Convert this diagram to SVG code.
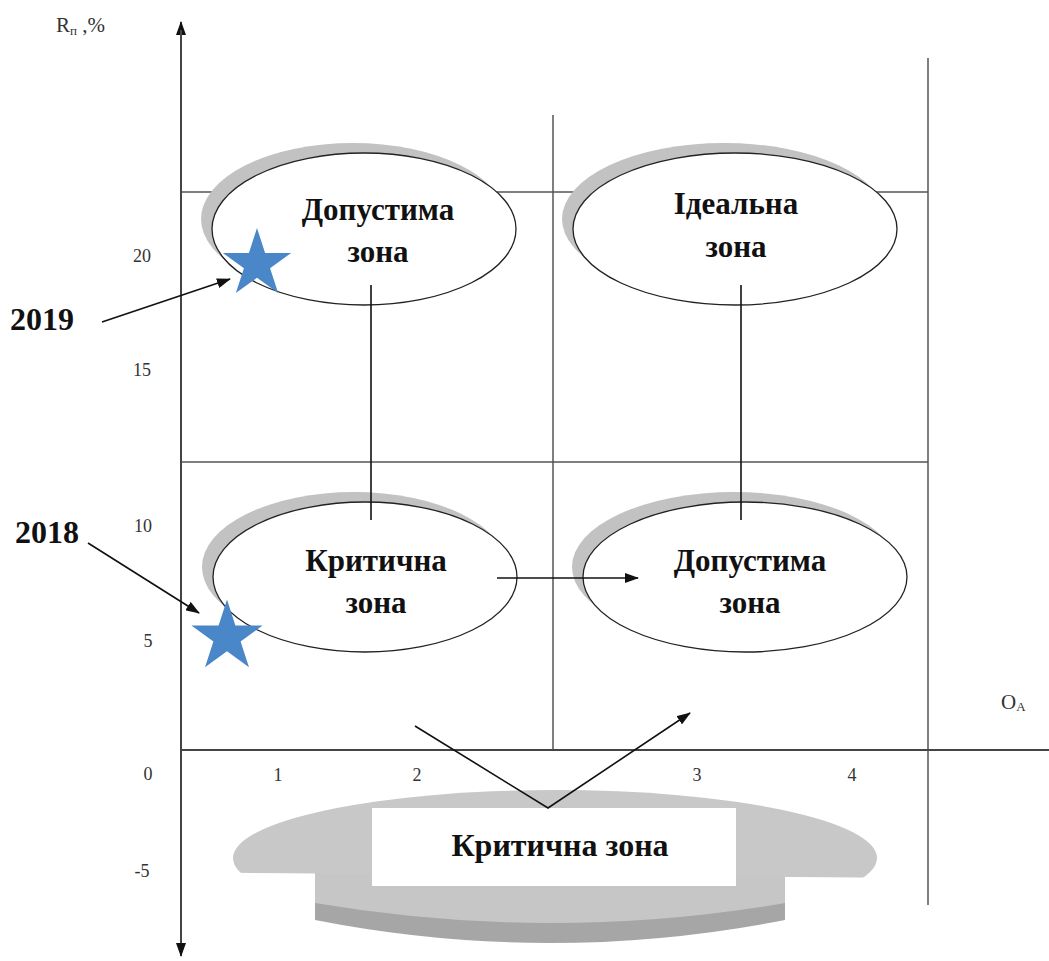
<svg xmlns="http://www.w3.org/2000/svg" width="1049" height="961" viewBox="0 0 1049 961">
<style>
.grid{stroke:#555;stroke-width:1.5;fill:none}
.axis{stroke:#444;stroke-width:2;fill:none}
.conn{stroke:#111;stroke-width:1.6;fill:none}
.shadow{fill:#c2c2c2}
.zone{fill:#fff;stroke:#222;stroke-width:1.3}
.lbl{font-family:"Liberation Serif","Times New Roman",serif;font-weight:bold;font-size:31px;fill:#111;text-anchor:middle}
.tick{font-family:"Liberation Serif","Times New Roman",serif;font-size:18px;fill:#333;text-anchor:middle}
.axl{font-family:"Liberation Serif","Times New Roman",serif;font-size:21px;fill:#333}
.year{font-family:"Liberation Serif","Times New Roman",serif;font-weight:bold;font-size:32px;fill:#111}
.star{fill:#4a87c9}
</style>
<defs>
<marker id="ah" viewBox="0 0 14 10" refX="13" refY="5" markerWidth="14" markerHeight="10" markerUnits="userSpaceOnUse" orient="auto">
<path d="M0,0 L14,5 L0,10 Z" fill="#111"/>
</marker>
<polygon id="starShape" points="0,-36 8.08,-11.12 34.24,-11.12 13.08,4.25 21.16,29.12 0,13.75 -21.16,29.12 -13.08,4.25 -34.24,-11.12 -8.08,-11.12"/>
<clipPath id="discClip"><polygon points="0,700 1049,700 1049,879 0,871"/></clipPath>
</defs>

<g id="grid">
<line class="grid" x1="181" y1="192" x2="928" y2="192"/>
<line class="grid" x1="181" y1="462" x2="928" y2="462"/>
<line class="grid" x1="553" y1="115" x2="553" y2="750"/>
<line class="grid" x1="928" y1="58" x2="928" y2="905"/>
<line class="axis" x1="181" y1="750" x2="1049" y2="750"/>
<line class="axis" x1="181" y1="950" x2="181" y2="22" marker-end="url(#ah)"/>
<line class="axis" x1="181" y1="30" x2="181" y2="956" marker-end="url(#ah)"/>
</g>

<g id="axis-labels">
<text class="axl" x="56" y="32">R<tspan font-size="13" dy="3">п</tspan><tspan dy="-3"> ,%</tspan></text>
<text class="axl" x="1001" y="709">O<tspan font-size="13" dy="2">А</tspan></text>
<text class="tick" x="142" y="262">20</text>
<text class="tick" x="142" y="376">15</text>
<text class="tick" x="143" y="532">10</text>
<text class="tick" x="148" y="647">5</text>
<text class="tick" x="148" y="780">0</text>
<text class="tick" x="142" y="877">-5</text>
<text class="tick" x="278" y="781">1</text>
<text class="tick" x="417" y="781">2</text>
<text class="tick" x="697" y="781">3</text>
<text class="tick" x="852" y="781">4</text>
</g>

<g id="zone-top-left">
<ellipse class="shadow" cx="353" cy="219" rx="152" ry="76"/>
<ellipse class="zone" cx="364" cy="229" rx="152" ry="76"/>
<text class="lbl" x="378" y="220">Допустима</text>
<text class="lbl" x="378" y="262">зона</text>
</g>

<g id="zone-top-right">
<ellipse class="shadow" cx="724" cy="219" rx="162" ry="76"/>
<ellipse class="zone" cx="735" cy="229" rx="162" ry="76"/>
<text class="lbl" x="736" y="214">Ідеальна</text>
<text class="lbl" x="736" y="257">зона</text>
</g>

<g id="zone-mid-left">
<ellipse class="shadow" cx="354" cy="567" rx="152" ry="75"/>
<ellipse class="zone" cx="365" cy="577" rx="152" ry="75"/>
<text class="lbl" x="376" y="571">Критична</text>
<text class="lbl" x="376" y="613">зона</text>
</g>

<g id="zone-mid-right">
<ellipse class="shadow" cx="734" cy="567" rx="162" ry="75"/>
<ellipse class="zone" cx="745" cy="577" rx="162" ry="75"/>
<text class="lbl" x="750" y="571">Допустима</text>
<text class="lbl" x="750" y="613">зона</text>
</g>

<g id="zone-bottom">
<path d="M315,880 L315,920 Q550,966 785,920 L785,880 Z" fill="#a6a6a6"/>
<path d="M315,868 L315,903 Q550,943 785,903 L785,868 Z" fill="#c6c6c6"/>
<ellipse cx="555" cy="858" rx="322" ry="68" fill="#c8c8c8" clip-path="url(#discClip)"/>
<rect x="372" y="808" width="364" height="78" fill="#fff"/>
<text class="lbl" x="560" y="856" style="font-size:32px">Критична зона</text>
</g>

<g id="connectors">
<line class="conn" x1="371" y1="285" x2="371" y2="520"/>
<line class="conn" x1="741" y1="285" x2="741" y2="520"/>
<line class="conn" x1="497" y1="578" x2="638" y2="578" marker-end="url(#ah)"/>
<polyline class="conn" points="415,726 548,808 690,713" marker-end="url(#ah)"/>
<line class="conn" x1="102" y1="322" x2="230" y2="279" marker-end="url(#ah)"/>
<line class="conn" x1="88" y1="543" x2="199" y2="613" marker-end="url(#ah)"/>
</g>

<g id="markers">
<use href="#starShape" class="star" transform="translate(257,264)"/>
<use href="#starShape" class="star" transform="translate(227,637) scale(1.04)"/>
</g>

<g id="years">
<text class="year" x="10" y="330">2019</text>
<text class="year" x="15" y="543">2018</text>
</g>
</svg>
